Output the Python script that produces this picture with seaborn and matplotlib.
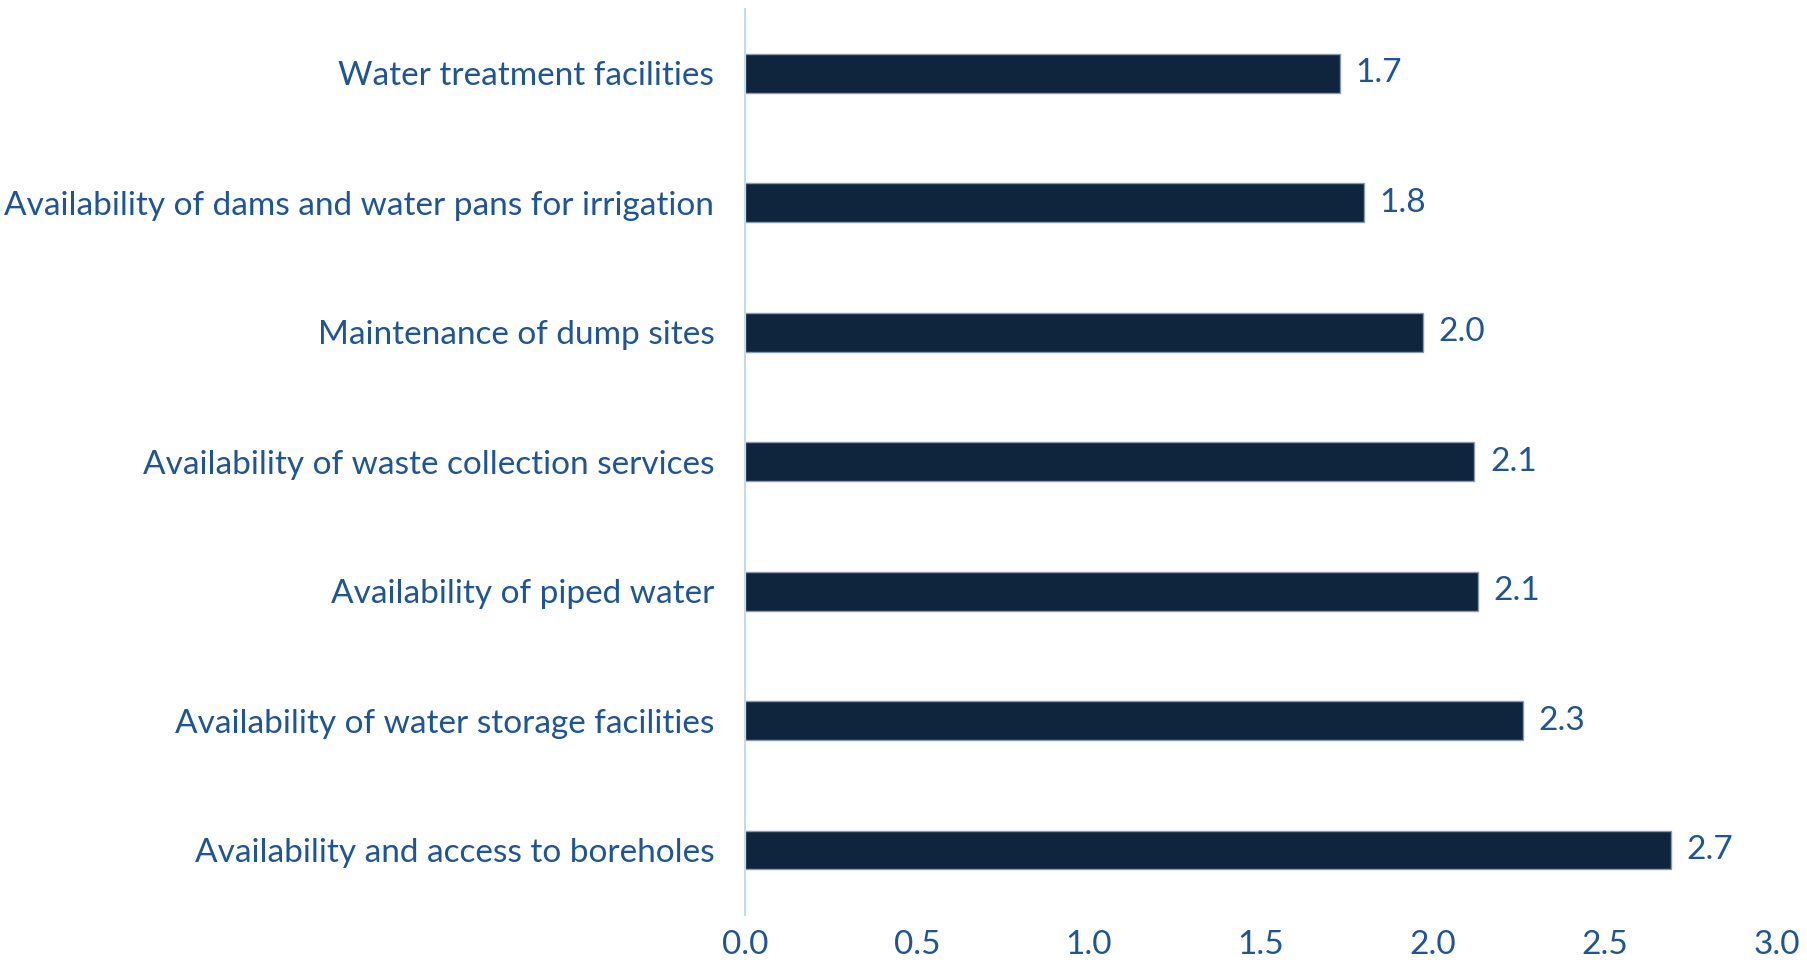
import matplotlib
matplotlib.use("Agg")
import matplotlib.pyplot as plt
import seaborn as sns
import pandas as pd

# data
categories = [
    "Water treatment facilities",
    "Availability of dams and water pans for irrigation",
    "Maintenance of dump sites",
    "Availability of waste collection services",
    "Availability of piped water",
    "Availability of water storage facilities",
    "Availability and access to boreholes",
]
scores = [1.73, 1.80, 1.97, 2.12, 2.13, 2.26, 2.69]
x_ticks = [0.0, 0.5, 1.0, 1.5, 2.0, 2.5, 3.0]

BAR_COLOR = "#0F243D"
TEXT_COLOR = "#1F5597"
AXIS_COLOR = "#C5D9F1"

sns.set_style("white")
plt.rcParams["font.family"] = ["Lato", "DejaVu Sans"]

df = pd.DataFrame({"category": categories, "score": scores})

fig = plt.figure(figsize=(18.08, 9.68), dpi=100)
ax = fig.add_axes([0.412, 0.055, 0.571, 0.936])

sns.barplot(data=df, x="score", y="category", color=BAR_COLOR, width=0.3,
            edgecolor="#8A9AAE", linewidth=1, saturation=1, ax=ax)

for i, v in enumerate(scores):
    ax.text(v + 0.045, i, f"{v:.1f}", va="center", ha="left",
            fontsize=24, color=TEXT_COLOR)

ax.set_xlim(0, 3.0)
ax.set_ylim(6.5, -0.5)
ax.set_xticks(x_ticks)
ax.set_xticklabels([f"{t:.1f}" for t in x_ticks])
ax.set_xlabel("")
ax.set_ylabel("")
ax.tick_params(axis="x", length=0, pad=11, labelsize=24, labelcolor=TEXT_COLOR)
ax.tick_params(axis="y", length=0, pad=22, labelsize=24, labelcolor=TEXT_COLOR)

for side in ["top", "right", "bottom"]:
    ax.spines[side].set_visible(False)
ax.spines["left"].set_color(AXIS_COLOR)
ax.spines["left"].set_linewidth(1.5)

fig.savefig("out.png", dpi=100)
